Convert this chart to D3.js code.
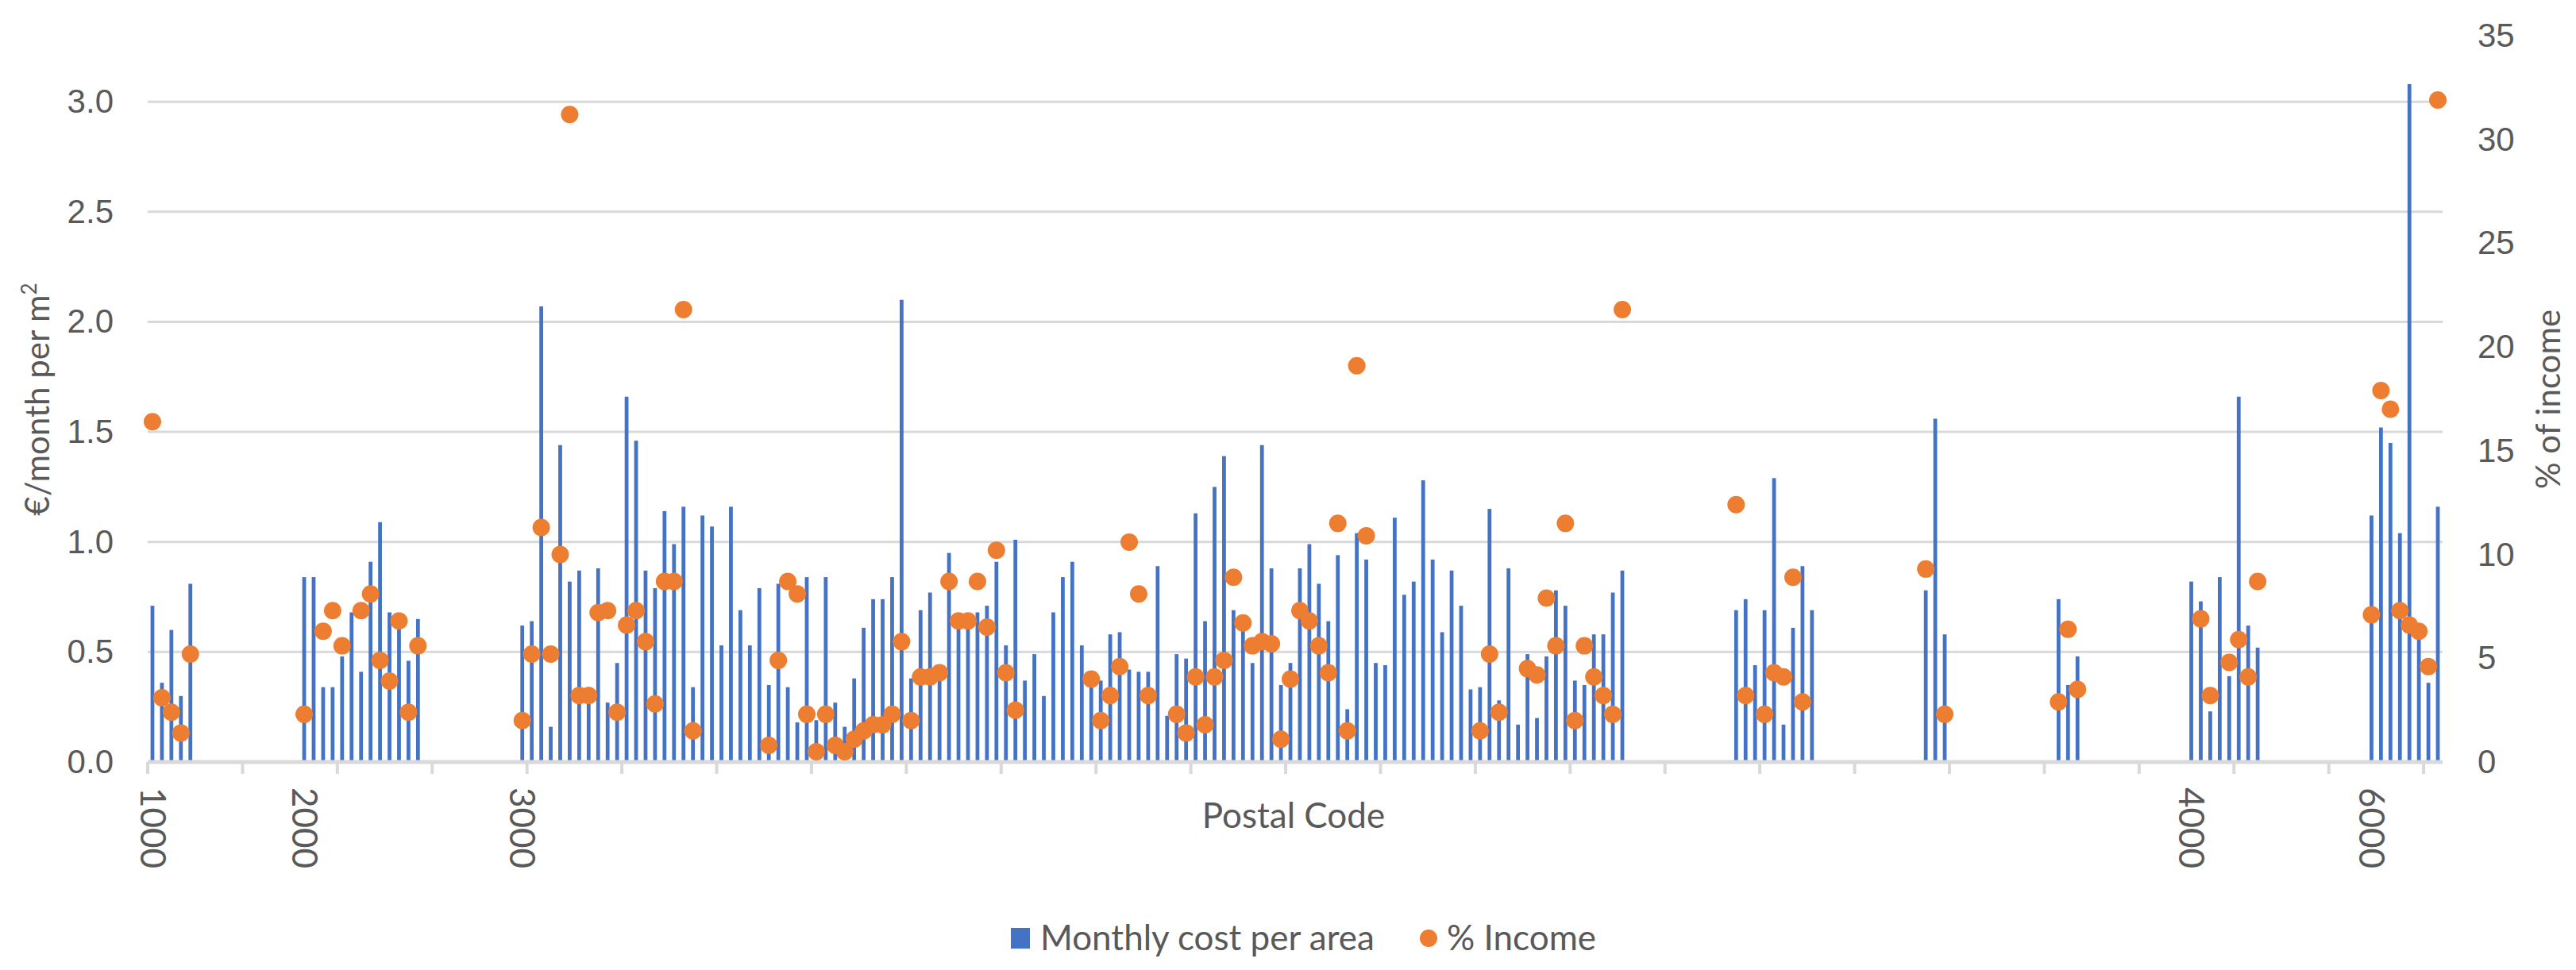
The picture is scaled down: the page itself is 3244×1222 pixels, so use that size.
<!DOCTYPE html>
<html>
<head>
<meta charset="utf-8">
<script src="https://cdn.jsdelivr.net/npm/d3@7"></script>
<style>
  body { margin: 0; background: #fff; }
  text { font-family: Lato, "Liberation Sans", sans-serif; fill: #595959; }
</style>
</head>
<body>
<svg id="chart"></svg>
<script>
// one slot per category on the axis; empty slots are postal codes without data
const categories = d3.range(242);

// positions on the axis that carry a label, and the label text
const labelIndex = [0, 16, 39, 215, 234];
const labelText = ['1000', '2000', '3000', '4000', '6000'];

// €/month per m² (bars), null = no bar
const monthlyCost = [
  0.71, 0.36, 0.60, 0.30, 0.81, null, null, null, null, null,
  null, null, null, null, null, null, 0.84, 0.84, 0.34, 0.34,
  0.48, 0.68, 0.41, 0.91, 1.09, 0.68, 0.62, 0.46, 0.65, null,
  null, null, null, null, null, null, null, null, null, 0.62,
  0.64, 2.07, 0.16, 1.44, 0.82, 0.87, 0.34, 0.88, 0.27, 0.45,
  1.66, 1.46, 0.87, 0.79, 1.14, 0.99, 1.16, 0.34, 1.12, 1.07,
  0.53, 1.16, 0.69, 0.53, 0.79, 0.35, 0.81, 0.34, 0.18, 0.84,
  0.19, 0.84, 0.27, 0.16, 0.38, 0.61, 0.74, 0.74, 0.84, 2.10,
  0.38, 0.69, 0.77, 0.38, 0.95, 0.64, 0.64, 0.68, 0.71, 0.91,
  0.53, 1.01, 0.37, 0.49, 0.30, 0.68, 0.84, 0.91, 0.53, 0.38,
  0.37, 0.58, 0.59, 0.42, 0.41, 0.41, 0.89, 0.21, 0.49, 0.47,
  1.13, 0.64, 1.25, 1.39, 0.69, 0.61, 0.45, 1.44, 0.88, 0.35,
  0.45, 0.88, 0.99, 0.81, 0.64, 0.94, 0.24, 1.04, 0.92, 0.45,
  0.44, 1.11, 0.76, 0.82, 1.28, 0.92, 0.59, 0.87, 0.71, 0.33,
  0.34, 1.15, 0.28, 0.88, 0.17, 0.49, 0.20, 0.48, 0.78, 0.71,
  0.37, 0.35, 0.58, 0.58, 0.77, 0.87, null, null, null, null,
  null, null, null, null, null, null, null, 0.69, 0.74, 0.44,
  0.69, 1.29, 0.17, 0.61, 0.89, 0.69, null, null, null, null,
  null, null, null, null, null, null, null, 0.78, 1.56, 0.58,
  null, null, null, null, null, null, null, null, null, null,
  null, 0.74, 0.35, 0.48, null, null, null, null, null, null,
  null, null, null, null, null, 0.82, 0.73, 0.23, 0.84, 0.39,
  1.66, 0.62, 0.52, null, null, null, null, null, null, null,
  null, null, null, null, 1.12, 1.52, 1.45, 1.04, 3.08, 0.60,
  0.36, 1.16
];

// % of income (dots), null = no dot
const pctIncome = [
  16.4, 3.1, 2.4, 1.4, 5.2, null, null, null, null, null,
  null, null, null, null, null, null, 2.3, null, 6.3, 7.3,
  5.6, null, 7.3, 8.1, 4.9, 3.9, 6.8, 2.4, 5.6, null,
  null, null, null, null, null, null, null, null, null, 2.0,
  5.2, 11.3, 5.2, 10.0, 31.2, 3.2, 3.2, 7.2, 7.3, 2.4,
  6.6, 7.3, 5.8, 2.8, 8.7, 8.7, 21.8, 1.5, null, null,
  null, null, null, null, null, 0.8, 4.9, 8.7, 8.1, 2.3,
  0.5, 2.3, 0.8, 0.5, 1.1, 1.5, 1.8, 1.8, 2.3, 5.8,
  2.0, 4.1, 4.1, 4.3, 8.7, 6.8, 6.8, 8.7, 6.5, 10.2,
  4.3, 2.5, null, null, null, null, null, null, null, 4.0,
  2.0, 3.2, 4.6, 10.6, 8.1, 3.2, null, null, 2.3, 1.4,
  4.1, 1.8, 4.1, 4.9, 8.9, 6.7, 5.6, 5.8, 5.7, 1.1,
  4.0, 7.3, 6.8, 5.6, 4.3, 11.5, 1.5, 19.1, 10.9, null,
  null, null, null, null, null, null, null, null, null, null,
  1.5, 5.2, 2.4, null, null, 4.5, 4.2, 7.9, 5.6, 11.5,
  2.0, 5.6, 4.1, 3.2, 2.3, 21.8, null, null, null, null,
  null, null, null, null, null, null, null, 12.4, 3.2, null,
  2.3, 4.3, 4.1, 8.9, 2.9, null, null, null, null, null,
  null, null, null, null, null, null, null, 9.3, null, 2.3,
  null, null, null, null, null, null, null, null, null, null,
  null, 2.9, 6.4, 3.5, null, null, null, null, null, null,
  null, null, null, null, null, null, 6.9, 3.2, null, 4.8,
  5.9, 4.1, 8.7, null, null, null, null, null, null, null,
  null, null, null, null, 7.1, 17.9, 17.0, 7.3, 6.6, 6.3,
  4.6, 31.9
];

const leftTicks = [0, 0.5, 1.0, 1.5, 2.0, 2.5, 3.0];
const rightTicks = [0, 5, 10, 15, 20, 25, 30, 35];

const width = 3244, height = 1222;
const plot = { left: 186, right: 3076, top: 45, bottom: 960 };
const blue = '#4472C4', orange = '#ED7D31', grid = '#D9D9D9';

const svg = d3.select('#chart').attr('width', width).attr('height', height);

let x = d3.scaleBand().domain(categories).range([plot.left, plot.right])
  .paddingInner(0.6).paddingOuter(0.3);
let yLeft = d3.scaleLinear().domain([0, 3.3]).range([plot.bottom, plot.top]);
let yRight = d3.scaleLinear().domain([0, 35]).range([plot.bottom, plot.top]);

// gridlines
svg.append('g').selectAll('line')
  .data(leftTicks.filter(d => d > 0))
  .join('line')
  .attr('x1', plot.left).attr('x2', plot.right)
  .attr('y1', d => yLeft(d)).attr('y2', d => yLeft(d))
  .attr('stroke', grid).attr('stroke-width', 3);

// left axis
const gl = svg.append('g').attr('transform', `translate(${plot.left},0)`)
  .call(d3.axisLeft(yLeft).tickValues(leftTicks).tickFormat(d3.format('.1f')).tickSize(0).tickPadding(43));
gl.select('.domain').remove();
gl.selectAll('text').style('font-size', '42px').style('font-family', '"Liberation Sans", sans-serif').attr('fill', '#595959');

// right axis
const gr = svg.append('g').attr('transform', `translate(${plot.right},0)`)
  .call(d3.axisRight(yRight).tickValues(rightTicks).tickSize(0).tickPadding(44));
gr.select('.domain').remove();
gr.selectAll('text').style('font-size', '42px').style('font-family', '"Liberation Sans", sans-serif').attr('fill', '#595959');

// bars
svg.append('g').selectAll('rect')
  .data(categories.filter(i => monthlyCost[i] != null))
  .join('rect')
  .attr('x', i => x(i))
  .attr('y', i => yLeft(monthlyCost[i]))
  .attr('width', x.bandwidth())
  .attr('height', i => yLeft(0) - yLeft(monthlyCost[i]))
  .attr('fill', blue);

// category axis line + tick marks every 10 slots
svg.append('line')
  .attr('x1', plot.left).attr('x2', plot.right)
  .attr('y1', yLeft(0)).attr('y2', yLeft(0))
  .attr('stroke', grid).attr('stroke-width', 5);

svg.append('g').selectAll('line')
  .data(categories.filter(i => i % 10 === 0))
  .join('line')
  .attr('x1', i => x.range()[0] + i * x.step())
  .attr('x2', i => x.range()[0] + i * x.step())
  .attr('y1', yLeft(0)).attr('y2', yLeft(0) + 15)
  .attr('stroke', grid).attr('stroke-width', 4);

// category labels, rotated
svg.append('g').selectAll('text')
  .data(labelIndex)
  .join('text')
  .attr('transform', i => `translate(${x(i) + x.bandwidth() / 2},${yLeft(0) + 32}) rotate(90)`)
  .attr('dy', '0.35em')
  .style('font-size', '44px')
  .text((d, k) => labelText[k]);

// dots
svg.append('g').selectAll('circle')
  .data(categories.filter(i => pctIncome[i] != null))
  .join('circle')
  .attr('cx', i => x(i) + x.bandwidth() / 2)
  .attr('cy', i => yRight(pctIncome[i]))
  .attr('r', 11)
  .attr('fill', orange);

// axis titles
const lt = svg.append('text')
  .attr('transform', 'translate(62,503) rotate(-90)')
  .attr('text-anchor', 'middle')
  .style('font-size', '42px');
lt.append('tspan').text('€/month  per m');
lt.append('tspan').attr('baseline-shift', 'super').style('font-size', '26px').text('2');

svg.append('text')
  .attr('transform', 'translate(3224,503) rotate(-90)')
  .attr('text-anchor', 'middle')
  .style('font-size', '42px')
  .text('% of income');

svg.append('text')
  .attr('x', 1629).attr('y', 1043)
  .attr('text-anchor', 'middle')
  .style('font-size', '44px')
  .text('Postal Code');

// legend
const legend = svg.append('g').attr('transform', 'translate(0,1182)');
legend.append('rect').attr('x', 1273).attr('y', -13).attr('width', 24).attr('height', 26).attr('fill', blue);
legend.append('text').attr('x', 1310).attr('dy', '0.35em').style('font-size', '44px').text('Monthly cost per area');
legend.append('circle').attr('cx', 1799).attr('cy', 0).attr('r', 11).attr('fill', orange);
legend.append('text').attr('x', 1822).attr('dy', '0.35em').style('font-size', '44px').text('% Income');
</script>
</body>
</html>
